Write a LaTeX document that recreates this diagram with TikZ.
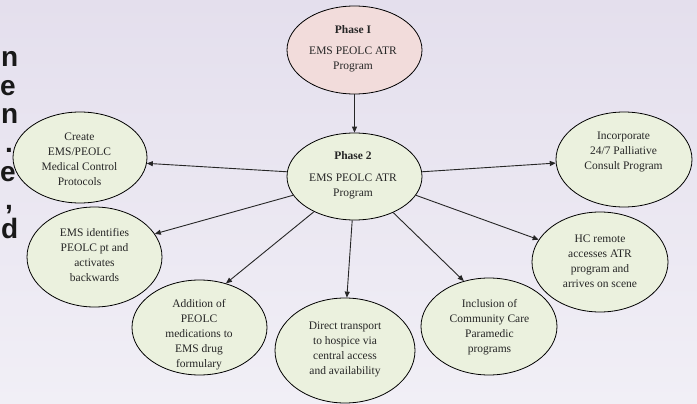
\documentclass[tikz,border=0pt]{standalone}
\usepackage{fontspec}
\setmainfont{Liberation Serif}
\newfontfamily\sidefont{Liberation Sans}
\usetikzlibrary{shapes.geometric,arrows.meta}

\definecolor{slidetop}{RGB}{228,223,237}
\definecolor{slidebottom}{RGB}{241,239,246}
\definecolor{bubblegreen}{RGB}{235,241,222}
\definecolor{bubblepink}{RGB}{242,220,219}
\definecolor{inktext}{RGB}{38,38,38}

\begin{document}
\begin{tikzpicture}[x=1pt, y=-1pt, >={Triangle[length=6pt,width=5pt]},
    bubble/.style={draw, ellipse, line width=0.8pt, fill=bubblegreen, inner sep=0pt},
    bubbletext/.style={align=center, text=inktext, inner sep=0pt, font={\fontsize{11.5}{15}\selectfont}},
    sidechar/.style={anchor=base east, inner sep=0pt, text=black!90, font={\sidefont\bfseries\fontsize{28}{28}\selectfont}},
    link/.style={->, line width=0.9pt, draw=black!85}]
    \shade[top color=slidetop, bottom color=slidebottom] (0,0) rectangle (697,404);
    \useasboundingbox (0,0) rectangle (697,404);

    \foreach \ch/\yy/\xx [count=\i] in {n/67/18.5, e/95.5/16, n/124/18.5, ./152.5/13, e/181/16, {,}/209.5/13, d/238/18.5}
        \node[sidechar] (side\i) at (\xx,\yy) {\ch};

    \node (phase1) [bubble, fill=bubblepink, minimum width=135pt, minimum height=88pt] at (354.5,50) {};
    \node (phase2) [bubble, minimum width=135pt, minimum height=87pt] at (354.5,176.5) {};
    \node (create) [bubble, minimum width=134pt, minimum height=91pt] at (80,157.5) {};
    \node (identify) [bubble, minimum width=135pt, minimum height=100pt] at (94.5,257) {};
    \node (addition) [bubble, minimum width=135pt, minimum height=95pt] at (199.5,327.5) {};
    \node (transport) [bubble, minimum width=140pt, minimum height=105pt] at (345,350.5) {};
    \node (inclusion) [bubble, minimum width=136pt, minimum height=97pt] at (489,326.5) {};
    \node (remote) [bubble, minimum width=136pt, minimum height=100pt] at (600,262) {};
    \node (consult) [bubble, minimum width=136pt, minimum height=95pt] at (624,159.5) {};

    \node (phase1-text) [bubbletext] at (353,49) {\textbf{Phase I}\\[6pt]EMS PEOLC ATR\\Program};
    \node (phase2-text) [bubbletext] at (353,175) {\textbf{Phase 2}\\[7pt]EMS PEOLC ATR\\Program};
    \node (create-text) [bubbletext] at (79.5,159.5) {Create\\EMS/PEOLC\\Medical Control\\Protocols};
    \node (identify-text) [bubbletext] at (94.5,255.5) {EMS identifies\\PEOLC pt and\\activates\\backwards};
    \node (addition-text) [bubbletext] at (199,335) {Addition of\\PEOLC\\medications to\\EMS drug\\formulary};
    \node (transport-text) [bubbletext] at (345,349.5) {Direct transport\\to hospice via\\central access\\and availability};
    \node (inclusion-text) [bubbletext] at (489.5,327) {Inclusion of\\Community Care\\Paramedic\\programs};
    \node (remote-text) [bubbletext] at (600,261.5) {HC remote\\accesses ATR\\program and\\arrives on scene};
    \node (consult-text) [bubbletext] at (623.5,152) {Incorporate\\24/7 Palliative\\Consult Program};

    \draw[link] (phase1) -- (phase2);
    \draw[link] (phase2.176) -- (create.-5);
    \draw[link] (phase2.197) -- (identify.21);
    \draw[link] (phase2.221) -- (addition.59);
    \draw[link] (phase2.267) -- (transport.88);
    \draw[link] (phase2.-43) -- (inclusion.119);
    \draw[link] (phase2.-17) -- (remote.160);
    \draw[link] (phase2.4) -- (consult.183);
\end{tikzpicture}
\end{document}
